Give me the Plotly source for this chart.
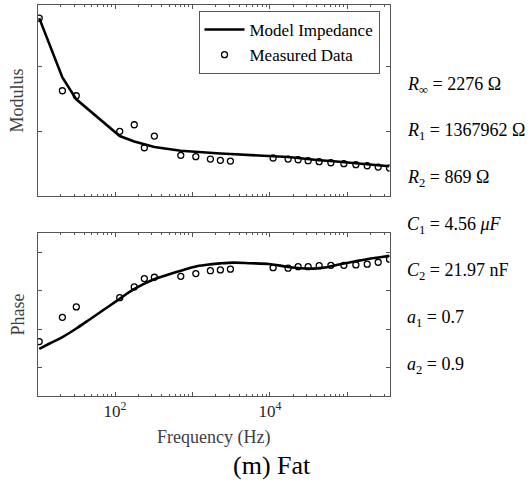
import plotly.graph_objects as go
from plotly.subplots import make_subplots

# ---------------- data ----------------
freq_hz = [10.5, 20.9, 31.6, 115, 177, 239, 322, 706, 1104, 1703, 2291, 3088,
           10990, 17170, 23120, 31170, 43250, 61240, 90150, 128800, 180300, 250000, 349900]

modulus_measured = [2.738, 1.620, 1.543, 0.995, 1.097, 0.743, 0.923, 0.626, 0.605, 0.569,
                    0.549, 0.538, 0.585, 0.569, 0.558, 0.543, 0.528, 0.512, 0.497, 0.482,
                    0.466, 0.446, 0.431]
modulus_model = [2.738, 1.826, 1.488, 0.923, 0.838, 0.792, 0.754, 0.697, 0.677, 0.662,
                 0.654, 0.646, 0.620, 0.600, 0.585, 0.567, 0.551, 0.538, 0.518, 0.500,
                 0.485, 0.471, 0.457]

phase_measured = [-66.4, -53.8, -48.4, -43.6, -38.0, -33.7, -33.0, -32.5, -31.1, -29.6,
                  -29.2, -28.8, -28.0, -28.3, -27.5, -27.5, -27.0, -26.8, -26.8, -26.6,
                  -26.2, -25.2, -23.6]

model_phase_freq = [10.5, 14.5, 21.5, 32, 47.5, 70.7, 105, 156, 232, 346, 514, 763, 1137,
                    1687, 2274, 3377, 5546, 10060, 16520, 24550, 36480, 54240, 80560,
                    119900, 178600, 265400, 349900]
model_phase = [-70.2, -67.3, -63.8, -59.5, -54.8, -50.0, -45.3, -40.5, -36.6, -33.5, -31.3,
               -29.2, -27.3, -26.3, -25.8, -25.4, -25.7, -26.2, -27.5, -28.3, -28.5, -27.8,
               -26.2, -24.9, -23.6, -22.6, -21.9]

param_labels = ["<i>R</i><sub>∞</sub> = 2276 Ω",
                "<i>R</i><sub>1</sub> = 1367962 Ω",
                "<i>R</i><sub>2</sub> = 869 Ω",
                "<i>C</i><sub>1</sub> = 4.56 <i>μF</i>",
                "<i>C</i><sub>2</sub> = 21.97 nF",
                "<i>a</i><sub>1</sub> = 0.7",
                "<i>a</i><sub>2</sub> = 0.9"]

x_major = [10, 100, 1000, 10000, 100000]
x_major_text = ["", "10<sup>2</sup>", "", "10<sup>4</sup>", ""]
x_minor = [m * 10 ** d for d in range(1, 6) for m in range(2, 10)]

# ---------------- figure ----------------
W, H = 532, 493
FONT = "Liberation Serif, Times New Roman, serif"
AX = "#555555"
TXT = "#262626"

fig = make_subplots(rows=2, cols=1)

fig.add_trace(go.Scatter(x=freq_hz, y=modulus_model, mode="lines",
                         line=dict(color="black", width=2.6),
                         name="Model Impedance"), row=1, col=1)
fig.add_trace(go.Scatter(x=freq_hz, y=modulus_measured, mode="markers",
                         marker=dict(symbol="circle-open", size=6, color="black",
                                     line=dict(width=1.3, color="black")),
                         name="Measured Data"), row=1, col=1)
fig.add_trace(go.Scatter(x=model_phase_freq, y=model_phase, mode="lines",
                         line=dict(color="black", width=2.6, shape="spline"),
                         showlegend=False), row=2, col=1)
fig.add_trace(go.Scatter(x=freq_hz, y=phase_measured, mode="markers",
                         marker=dict(symbol="circle-open", size=6, color="black",
                                     line=dict(width=1.3, color="black")),
                         showlegend=False), row=2, col=1)

x0, x1 = 37.6 / W, 389.5 / W
xcommon = dict(type="log", range=[1, 5.544], showline=True, linecolor=AX, linewidth=1,
               mirror="allticks", ticks="inside", ticklen=4, tickcolor=AX,
               tickvals=x_major, ticktext=x_major_text, showgrid=False, zeroline=False,
               minor=dict(ticks="inside", ticklen=2, tickcolor=AX, tickvals=x_minor,
                          showgrid=False),
               tickfont=dict(family=FONT, size=17, color=TXT), domain=[x0, x1])
fig.update_xaxes(**xcommon)
fig.update_xaxes(showticklabels=False, row=1, col=1)

ycommon = dict(showline=True, linecolor=AX, linewidth=1, mirror="allticks",
               ticks="inside", ticklen=4, tickcolor=AX, showticklabels=False,
               showgrid=False, zeroline=False)
fig.update_yaxes(**ycommon)
fig.update_yaxes(range=[0, 2.94], tickvals=[0, 1, 2],
                 domain=[1 - 196 / H, 1 - 5 / H], row=1, col=1)
fig.update_yaxes(range=[-94.7, -10], tickvals=[-80, -60, -40, -20],
                 domain=[1 - 396 / H, 1 - 233 / H], row=2, col=1)

ann = []
# axis titles
ann.append(dict(text="Modulus", x=17 / W, y=1 - 100.5 / H, textangle=-90,
                font=dict(family=FONT, size=18, color="#404040")))
ann.append(dict(text="Phase", x=17 / W, y=1 - 314.5 / H, textangle=-90,
                font=dict(family=FONT, size=18, color="#404040")))
ann.append(dict(text="Frequency (Hz)", x=213 / W, y=1 - 437 / H,
                font=dict(family=FONT, size=18, color="#404040")))
ann.append(dict(text="(m) Fat", x=272 / W, y=1 - 465 / H,
                font=dict(family=FONT, size=26, color="black")))
# parameter list
for i, lab in enumerate(param_labels):
    ann.append(dict(text=lab, x=405 / W, y=1 - (85 + 46.67 * i) / H, xanchor="left",
                    font=dict(family=FONT, size=18, color="black")))
for a in ann:
    a.setdefault("xanchor", "center")
    a.update(xref="paper", yref="paper", yanchor="middle", showarrow=False)

fig.update_layout(
    width=W, height=H, margin=dict(l=0, r=0, t=0, b=0),
    paper_bgcolor="white", plot_bgcolor="white",
    annotations=ann,
    showlegend=True,
    legend=dict(x=379.5 / W, xanchor="right", y=1 - 11 / H, yanchor="top",
                bgcolor="white", bordercolor=AX, borderwidth=1,
                font=dict(family=FONT, size=17, color="black"),
                itemwidth=40, tracegroupgap=0),
)

fig.write_html("out.html")
